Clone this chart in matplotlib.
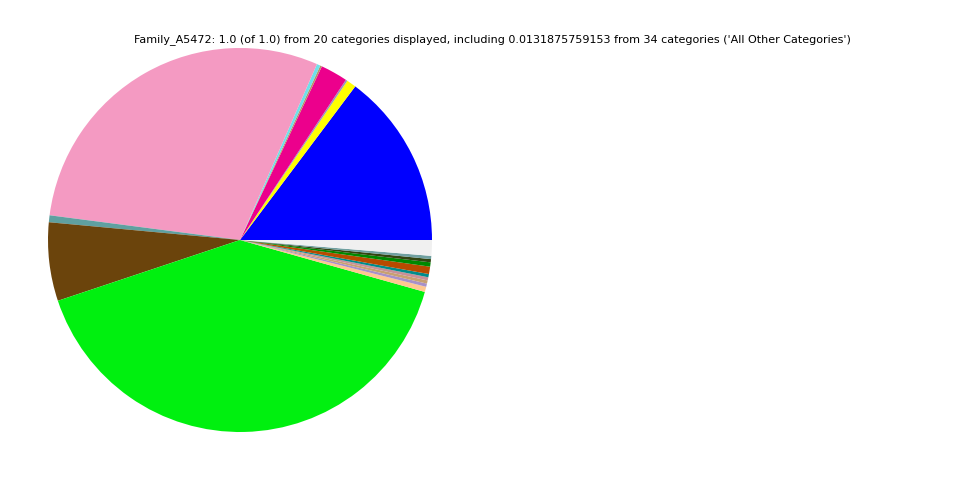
import matplotlib
matplotlib.use("Agg")
import matplotlib.pyplot as plt

categories = ["C01", "C02", "C03", "C04", "C05", "C06", "C07", "C08", "C09", "C10",
              "C11", "C12", "C13", "C14", "C15", "C16", "C17", "C18", "C19", "All Other Categories"]
values = [0.1475, 0.0080, 0.0015, 0.0228, 0.0015, 0.0030, 0.2950, 0.0058, 0.0660, 0.4050,
          0.0044, 0.0027, 0.0027, 0.0027, 0.0027, 0.0062, 0.0036, 0.0027, 0.0027, 0.0131875759153]
colors = ["#0000ff", "#ffff00", "#9a9ab8", "#ec008c", "#b89068", "#6ee0ea", "#f49ac2", "#5fa0a0",
          "#6b440c", "#00f00f", "#ffc890", "#a890c8", "#c8a070", "#c89098", "#008c8c", "#b84a00",
          "#008800", "#334411", "#70a0a0", "#f0f0f0"]
title = "Family_A5472: 1.0 (of 1.0) from 20 categories displayed, including 0.0131875759153 from 34 categories ('All Other Categories')"

fig = plt.figure(figsize=(9.6, 4.8), dpi=100)
ax = fig.add_axes([48/960, 48/480, 384/960, 384/480])
ax.pie(values, colors=colors, startangle=0, counterclock=True, normalize=True)
ax.set_xlim(-1, 1)
ax.set_ylim(-1, 1)
ax.set_aspect("equal")
ax.axis("off")
fig.text(492/960, 1 - 40/480, title, ha="center", va="center", fontsize=8)
fig.savefig("out.png", dpi=100)
